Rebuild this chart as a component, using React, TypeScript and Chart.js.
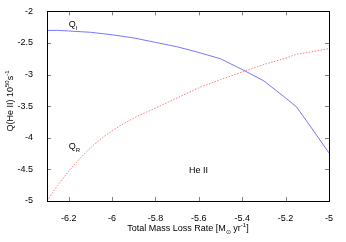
import React, { useEffect, useRef } from "react";
import { Chart, registerables } from "chart.js";

Chart.register(...registerables);

const massLoss = [-6.3, -6.25, -6.2, -6.1, -6.0, -5.9, -5.8, -5.7, -5.6, -5.5, -5.4, -5.3, -5.2, -5.15, -5.1, -5.0];
const qI = [-2.30, -2.30, -2.31, -2.33, -2.37, -2.42, -2.49, -2.56, -2.65, -2.75, -2.92, -3.10, -3.37, -3.51, -3.75, -4.24];
const qR = [-5.0, -4.75, -4.53, -4.16, -3.89, -3.69, -3.53, -3.37, -3.21, -3.08, -2.96, -2.84, -2.74, -2.68, -2.65, -2.59];
const xTicks = [-6.2, -6.0, -5.8, -5.6, -5.4, -5.2, -5.0];
const yTicks = [-5, -4.5, -4, -3.5, -3, -2.5, -2];

const FONT = "Liberation Sans, Arial, sans-serif";

function fmt(v: number) {
  return String(Math.round(v * 10) / 10);
}

const framePlugin = {
  id: "frame",
  afterDraw(chart: any) {
    const { ctx, chartArea: a, scales } = chart;
    const xs = scales.x, ys = scales.y;
    ctx.save();
    ctx.strokeStyle = "#808080";
    ctx.lineWidth = 1;
    const L = 4;
    ctx.beginPath();
    xTicks.forEach((v) => {
      const px = Math.round(xs.getPixelForValue(v)) + 0.5;
      ctx.moveTo(px, a.bottom); ctx.lineTo(px, a.bottom - L);
      ctx.moveTo(px, a.top); ctx.lineTo(px, a.top + L);
    });
    yTicks.forEach((v) => {
      const py = Math.round(ys.getPixelForValue(v)) + 0.5;
      ctx.moveTo(a.left, py); ctx.lineTo(a.left + L, py);
      ctx.moveTo(a.right, py); ctx.lineTo(a.right - L, py);
    });
    ctx.stroke();
    ctx.strokeStyle = "#000";
    ctx.strokeRect(Math.round(a.left) + 0.5, Math.round(a.top) + 0.5, Math.round(a.right - a.left), Math.round(a.bottom - a.top));

    ctx.fillStyle = "#000";
    ctx.textBaseline = "alphabetic";
    const sub = (base: string, s: string, x: number, y: number) => {
      ctx.font = `9px ${FONT}`;
      ctx.fillText(base, x, y);
      const w = ctx.measureText(base).width;
      ctx.font = `6px ${FONT}`;
      ctx.fillText(s, x + w, y + 3);
    };
    ctx.textAlign = "left";
    sub("Q", "I", xs.getPixelForValue(-6.2), ys.getPixelForValue(-2.24));
    sub("Q", "R", xs.getPixelForValue(-6.2), ys.getPixelForValue(-4.17));
    ctx.font = `9px ${FONT}`;
    ctx.fillText("He II", xs.getPixelForValue(-5.645), ys.getPixelForValue(-4.55));

    {
      const parts: [string, number, number][] = [
        ["Total Mass Loss Rate [M", 9, 0],
        ["\u2299", 6, 3],
        [" yr", 9, 0],
        ["-1", 6, -4],
        ["]", 9, 0],
      ];
      let total = 0;
      parts.forEach(([t, s]) => { ctx.font = `${s}px ${FONT}`; total += ctx.measureText(t).width; });
      let x = (a.left + a.right) / 2 - total / 2;
      const y = 231;
      parts.forEach(([t, s, dy]) => {
        ctx.font = `${s}px ${FONT}`;
        ctx.fillText(t, x, y + dy);
        x += ctx.measureText(t).width;
      });
    }
    {
      ctx.translate(13, 101);
      ctx.rotate(-Math.PI / 2);
      const parts: [string, number, number][] = [
        ["Q(He II) 10", 9, 0],
        ["50", 6, -4],
        ["s", 9, 0],
        ["-1", 6, -4],
      ];
      let total = 0;
      parts.forEach(([t, s]) => { ctx.font = `${s}px ${FONT}`; total += ctx.measureText(t).width; });
      let x = -total / 2;
      parts.forEach(([t, s, dy]) => {
        ctx.font = `${s}px ${FONT}`;
        ctx.fillText(t, x, dy);
        x += ctx.measureText(t).width;
      });
    }
    ctx.restore();
  },
};

export default function App() {
  const ref = useRef<HTMLCanvasElement>(null);
  useEffect(() => {
    document.body.style.margin = "0";
    const chart = new Chart(ref.current!, {
      type: "line",
      data: {
        datasets: [
          {
            label: "QI",
            data: massLoss.map((x, i) => ({ x, y: qI[i] })),
            borderColor: "#7777ff",
            borderWidth: 1,
            pointRadius: 0,
            tension: 0,
          },
          {
            label: "QR",
            data: massLoss.map((x, i) => ({ x, y: qR[i] })),
            borderColor: "#ff7a7a",
            borderWidth: 1,
            borderDash: [1.5, 1.5],
            pointRadius: 0,
            cubicInterpolationMode: "monotone",
          },
        ],
      },
      options: {
        animation: false,
        responsive: false,
        maintainAspectRatio: false,
        layout: { padding: { top: 11, right: 17, left: 0, bottom: 0 } },
        plugins: { legend: { display: false }, tooltip: { enabled: false } },
        scales: {
          x: {
            type: "linear",
            min: -6.3,
            max: -5,
            grid: { display: false },
            border: { display: false },
            afterBuildTicks: (s: any) => { s.ticks = xTicks.map((v) => ({ value: v })); },
            afterFit: (s: any) => { s.height = 41; },
            ticks: {
              autoSkip: false,
              maxRotation: 0,
              padding: 4,
              color: "#000",
              font: { family: FONT, size: 9 },
              callback: (v: any) => fmt(Number(v)),
            },
          },
          y: {
            type: "linear",
            min: -5,
            max: -2,
            grid: { display: false },
            border: { display: false },
            afterBuildTicks: (s: any) => { s.ticks = yTicks.map((v) => ({ value: v })); },
            afterFit: (s: any) => { s.width = 47; },
            ticks: {
              autoSkip: false,
              padding: 6,
              color: "#000",
              font: { family: FONT, size: 9 },
              callback: (v: any) => fmt(Number(v)),
            },
          },
        },
      },
      plugins: [framePlugin],
    } as any);
    return () => chart.destroy();
  }, []);
  return <canvas ref={ref} width={346} height={242} style={{ display: "block" }} />;
}
